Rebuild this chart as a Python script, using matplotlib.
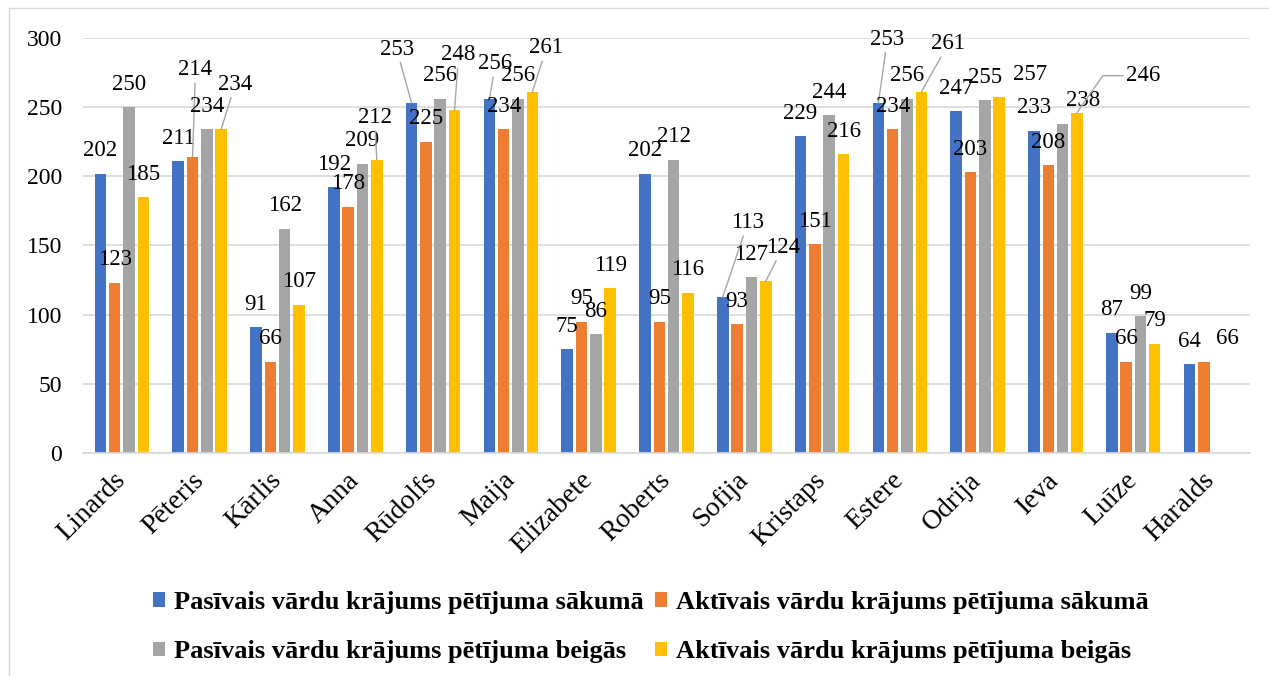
import matplotlib.pyplot as plt
import numpy as np
from matplotlib.patches import Rectangle

plt.rcParams["font.family"] = ["Liberation Serif", "DejaVu Serif"]

names = ["Linards", "Pēteris", "Kārlis", "Anna", "Rūdolfs", "Maija", "Elizabete",
         "Roberts", "Sofija", "Kristaps", "Estere", "Odrija", "Ieva", "Luīze", "Haralds"]
passive_start = [202, 211, 91, 192, 253, 256, 75, 202, 113, 229, 253, 247, 233, 87, 64]
active_start = [123, 214, 66, 178, 225, 234, 95, 95, 93, 151, 234, 203, 208, 66, 66]
passive_end = [250, 234, 162, 209, 256, 256, 86, 212, 127, 244, 256, 255, 238, 99, None]
active_end = [185, 234, 107, 212, 248, 261, 119, 116, 124, 216, 261, 257, 246, 79, None]

series_labels = [
    "Pasīvais vārdu krājums pētījuma sākumā",
    "Aktīvais vārdu krājums pētījuma sākumā",
    "Pasīvais vārdu krājums pētījuma beigās",
    "Aktīvais vārdu krājums pētījuma beigās",
]
colors = ["#4472C4", "#ED7D31", "#A5A5A5", "#FFC000"]

# data label nudges in pixels: (dx, dy above bar top, leader)
DEFAULT_DY = 23
label_moves = {
    (1, "Pēteris"): (3, 87, "line"),
    (3, "Pēteris"): (14, 45, "line"),
    (3, "Anna"): (-2, 42, "line"),
    (0, "Rūdolfs"): (-15, 54, "line"),
    (3, "Rūdolfs"): (4, 55, "line"),
    (0, "Maija"): (6, 35, "line"),
    (3, "Maija"): (14, 44, "line"),
    (0, "Sofija"): (25, 74, "line"),
    (3, "Sofija"): (17, 34, "line"),
    (0, "Estere"): (9, 64, "line"),
    (3, "Estere"): (27, 48, "line"),
    (3, "Odrija"): (31, 23, None),
    (2, "Ieva"): (20, 23, None),
    (3, "Ieva"): (66, 37, "elbow"),
    (1, "Haralds"): (23, 23, None),
}

fig = plt.figure(figsize=(12.69, 6.76), dpi=100)
ax = fig.add_axes([0.0654, 0.3299, 0.9196, 0.6139])

x = np.arange(len(names))
width = 0.148
step = 0.184
all_series = [passive_start, active_start, passive_end, active_end]
handles = []
for i, vals in enumerate(all_series):
    heights = np.array([np.nan if v is None else v for v in vals], dtype=float)
    xs = x + (i - 1.5) * step
    bars = ax.bar(xs, heights, width=width, color=colors[i], label=series_labels[i], zorder=2)
    handles.append(bars)
    for xi, h, name in zip(xs, heights, names):
        if np.isnan(h):
            continue
        dx, dy, leader = label_moves.get((i, name), (0, DEFAULT_DY, None))
        arrow = None
        if leader == "line":
            arrow = dict(arrowstyle="-", color="#A6A6A6", lw=1.0, shrinkA=0, shrinkB=0)
        elif leader == "elbow":
            arrow = dict(arrowstyle="-", color="#A6A6A6", lw=1.0, shrinkA=0, shrinkB=0,
                         relpos=(0, 0.5), connectionstyle="angle,angleA=0,angleB=55,rad=0")
        ax.annotate(f"{int(h)}", xy=(xi, h), xytext=(dx, dy), textcoords="offset pixels",
                    ha="center", va="center", fontsize=16.5, color="black",
                    arrowprops=arrow, zorder=3)

ax.set_xlim(-0.5, len(names) - 0.5)
ax.set_ylim(0, 300)
ax.set_yticks(np.arange(0, 301, 50))
ax.yaxis.grid(True, color="#D9D9D9", lw=1.2)
ax.set_axisbelow(True)
for side in ["top", "right", "left"]:
    ax.spines[side].set_visible(False)
ax.spines["bottom"].set_color("#D9D9D9")
ax.spines["bottom"].set_linewidth(1.2)
ax.tick_params(axis="y", length=0, pad=15, labelsize=17)
ax.set_xticks(x)
ax.set_xticklabels(names, rotation=45, ha="right", va="center", rotation_mode="anchor")
ax.tick_params(axis="x", length=0, pad=17, labelsize=20)

order = [0, 2, 1, 3]
fig.legend([handles[k] for k in order], [series_labels[k] for k in order],
           ncol=2, loc="center", bbox_to_anchor=(0.513, 0.0725), frameon=False,
           prop={"weight": "bold", "size": 19}, handlelength=0.46, handleheight=0.46,
           handletextpad=0.35, columnspacing=0.4, labelspacing=1.0, borderpad=0)

fig.patches.append(Rectangle((9 / 1269, -0.1), 1.2, 0.988 + 0.1, transform=fig.transFigure,
                             fill=False, edgecolor="#D9D9D9", lw=1.0))

fig.savefig("out.png", dpi=100)
